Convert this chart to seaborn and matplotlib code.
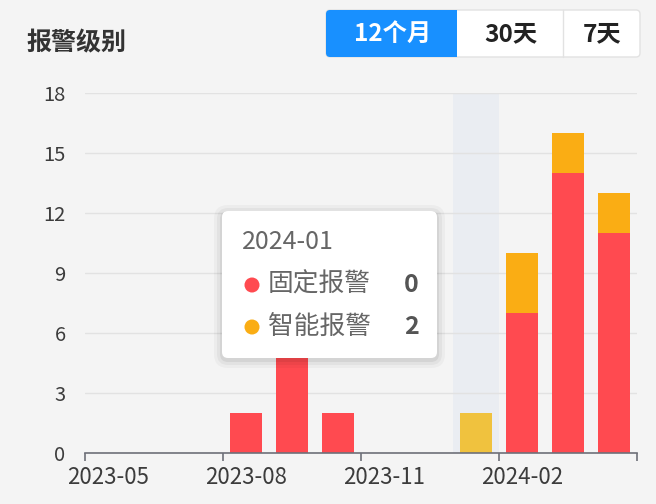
import numpy as np
import pandas as pd
import matplotlib.pyplot as plt
import seaborn as sns
from matplotlib.patches import FancyBboxPatch, Rectangle, Circle

# data
months = ['2023-05', '2023-06', '2023-07', '2023-08', '2023-09', '2023-10',
          '2023-11', '2023-12', '2024-01', '2024-02', '2024-03', '2024-04']
fixed = [0, 0, 0, 2, 6, 2, 0, 0, 0, 7, 14, 11]   # 固定报警
smart = [0, 0, 0, 0, 0, 0, 0, 0, 2, 3, 2, 2]     # 智能报警
series_names = ['固定报警', '智能报警']
tick_months = ['2023-05', '2023-08', '2023-11', '2024-02']
hover_month = '2024-01'
buttons = ['12个月', '30天', '7天']

RED = '#ff4a50'
YELLOW = '#faad14'
BG = '#f4f4f4'

df = pd.DataFrame({'month': months, 'fixed': fixed, 'smart': smart})
df['total'] = df['fixed'] + df['smart']

sns.set_theme(style='white')
plt.rcParams['font.family'] = ['Noto Sans CJK SC', 'DejaVu Sans']

fig = plt.figure(figsize=(6.56, 5.04), dpi=100, facecolor=BG)
ax = fig.add_axes([85 / 656, 1 - 453 / 504, (637 - 85) / 656, (453 - 93) / 504])
ax.set_facecolor(BG)

i_hover = months.index(hover_month)
ax.axvspan(i_hover - 0.5, i_hover + 0.5, color='#eaedf2', zorder=0, lw=0)

# stacked: totals (yellow) underneath, fixed (red) on top
sns.barplot(data=df, x='month', y='total', color=YELLOW, width=0.7,
            saturation=1, linewidth=0, ax=ax, zorder=2)
sns.barplot(data=df, x='month', y='fixed', color=RED, width=0.7,
            saturation=1, linewidth=0, ax=ax, zorder=3)
ax.containers[0][i_hover].set_facecolor('#f0c23e')  # hovered bar

ax.set_ylim(0, 18)
ax.set_yticks(range(0, 19, 3))
ax.set_xlim(-0.5, len(months) - 0.5)
ax.grid(axis='y', color='#e2e2e2', lw=1)
ax.set_axisbelow(True)
for s in ['left', 'top', 'right']:
    ax.spines[s].set_visible(False)
ax.spines['bottom'].set_color('#6e7079')
ax.spines['bottom'].set_linewidth(1.2)
ax.spines['bottom'].set_zorder(5)

bounds = np.arange(-0.5, len(months), 3)
ax.set_xticks(bounds)
ax.set_xticklabels([''] * len(bounds))
ax.set_xticks([months.index(m) for m in tick_months], minor=True)
ax.set_xticklabels(tick_months, minor=True)
ax.tick_params(axis='x', which='major', bottom=True, length=6, width=1.2,
               color='#6e7079', direction='out')
ax.tick_params(axis='x', which='minor', bottom=True, length=0, pad=9,
               labelsize=16, labelcolor='#3c3c3c')
ax.tick_params(axis='y', length=0, pad=14, labelsize=14.5, labelcolor='#3c3c3c')
ax.set_xlabel('')
ax.set_ylabel('')

# overlay in pixel coordinates for title, buttons and tooltip
ov = fig.add_axes([0, 0, 1, 1], zorder=10)
ov.set_xlim(0, 656)
ov.set_ylim(504, 0)
ov.axis('off')
ov.patch.set_alpha(0)

ov.text(26, 43, '报警级别', fontsize=18, fontweight='bold', color='#333333', va='center')

ov.add_patch(FancyBboxPatch((326, 10), 314, 47, boxstyle='round,pad=0,rounding_size=4',
                            fc='white', ec='#e2e2e2', lw=1))
ov.add_patch(FancyBboxPatch((326, 10), 131, 47, boxstyle='round,pad=0,rounding_size=4',
                            fc='#1890ff', ec='none'))
ov.add_patch(Rectangle((445, 10), 12, 47, fc='#1890ff', ec='none'))
ov.plot([563, 563], [10, 57], color='#e2e2e2', lw=1)
btn_x = [393, 511, 602]
for j, (b, bx) in enumerate(zip(buttons, btn_x)):
    ov.text(bx, 34, b, fontsize=17.5, fontweight='bold', ha='center', va='center',
            color='white' if j == 0 else '#222222')

# tooltip
for k, a in [(8, 0.03), (5, 0.04), (2, 0.06)]:
    ov.add_patch(FancyBboxPatch((222 - k, 211 - k + 2), 215 + 2 * k, 147 + 2 * k,
                                boxstyle='round,pad=0,rounding_size=%d' % (6 + k),
                                fc='black', ec='none', alpha=a))
ov.add_patch(FancyBboxPatch((222, 211), 215, 147, boxstyle='round,pad=0,rounding_size=6',
                            fc='white', ec='none'))
ov.text(242, 242, hover_month, fontsize=18, color='#666666', va='center')
tip_vals = [fixed[i_hover], smart[i_hover]]
for row, (name, val, col) in enumerate(zip(series_names, tip_vals, [RED, YELLOW])):
    yy = 285 + row * 42
    ov.add_patch(Circle((252, yy), 7.5, fc=col, ec='none'))
    ov.text(268, yy, name, fontsize=18.5, color='#666666', va='center')
    ov.text(419, yy, str(val), fontsize=18, fontweight='bold', color='#555555',
            va='center', ha='right')

fig.savefig('out.png', dpi=100, facecolor=BG)
